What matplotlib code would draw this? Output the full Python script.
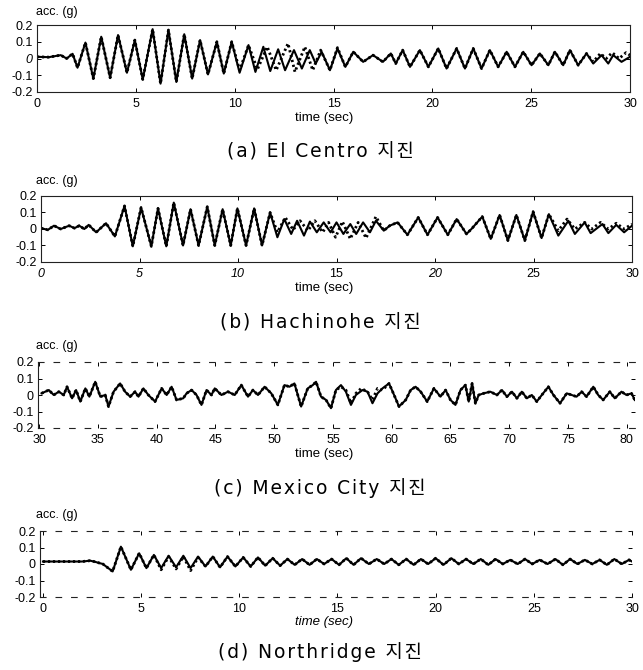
import matplotlib
matplotlib.use("Agg")
import matplotlib.pyplot as plt

plt.rcParams['font.family'] = ['Liberation Sans', 'DejaVu Sans']

# ---- El Centro: response peaks (time s, acc g) ----
elc_t = [0.0, 0.6, 1.2, 1.5, 1.8, 2.05, 2.45, 2.85, 3.25, 3.7, 4.1, 4.55, 4.95, 5.35, 5.85,
         6.25, 6.65, 7.05, 7.45, 7.85, 8.25, 8.65, 9.1, 9.45, 9.85, 10.25, 10.7, 11.05, 11.45,
         11.8, 12.2, 12.55, 13.0, 13.4, 13.8, 14.1, 14.4, 14.82, 15.2, 15.6, 16.0, 16.5, 17.0,
         17.5, 17.9, 18.15, 18.5, 18.87, 19.37, 19.8, 20.3, 20.72, 21.23, 21.65, 22.07, 22.49,
         22.91, 23.33, 23.76, 24.18, 24.6, 25.02, 25.44, 25.87, 26.2, 26.62, 26.96, 27.38, 27.8,
         28.14, 28.56, 28.9, 29.15, 29.57, 30.0]
elc_acc = [0.010, 0.008, 0.020, 0.000, 0.028, -0.055, 0.095, -0.120, 0.130, -0.115, 0.140,
           -0.085, 0.110, -0.125, 0.175, -0.150, 0.170, -0.140, 0.145, -0.120, 0.110, -0.095,
           0.100, -0.090, 0.100, -0.085, 0.080, -0.080, 0.070, -0.075, 0.055, -0.070, 0.050,
           -0.060, 0.050, -0.030, 0.040, -0.070, 0.060, -0.050, 0.040, -0.020, 0.020, -0.020,
           0.030, -0.030, 0.050, -0.050, 0.050, -0.050, 0.060, -0.060, 0.060, -0.060, 0.060,
           -0.060, 0.050, -0.050, 0.040, -0.050, 0.040, -0.040, 0.030, -0.040, 0.040, -0.040,
           0.050, -0.040, 0.030, -0.030, 0.020, -0.030, 0.020, -0.020, 0.010]
# simulated response where it departs from the measured one
elc_sim_t1 = [10.25, 10.7, 11.15, 11.65, 12.1, 12.7, 13.05, 13.55, 13.95, 14.35, 14.82, 15.2, 15.6, 16.0]
elc_sim_a1 = [-0.070, 0.080, -0.065, 0.070, -0.070, 0.090, -0.080, 0.070, -0.070, 0.050, -0.070,
              0.065, -0.050, 0.040]
elc_sim_t2 = [28.14, 28.5, 28.8, 29.1, 29.45, 29.8, 30.0]
elc_sim_a2 = [-0.020, 0.030, 0.000, 0.035, 0.000, 0.035, 0.020]

# ---- Hachinohe ----
hac_t = [0.0, 0.35, 0.66, 1.0, 1.43, 1.7, 1.94, 2.2, 2.42, 2.8, 3.3, 3.75, 4.24, 4.66, 5.08,
         5.6, 5.94, 6.36, 6.74, 7.21, 7.59, 8.0, 8.44, 8.82, 9.22, 9.63, 9.97, 10.41, 10.82,
         11.22, 11.63, 12.0, 12.35, 12.7, 13.0, 13.35, 13.65, 14.0, 14.35, 14.7, 15.0, 15.35,
         15.7, 16.0, 16.35, 16.7, 17.0, 17.4, 17.7, 18.1, 18.6, 19.15, 19.62, 20.13, 20.65,
         21.1, 21.6, 21.85, 22.4, 22.83, 23.28, 23.7, 24.13, 24.56, 24.98, 25.41, 25.78, 26.26,
         26.77, 27.1, 27.6, 27.9, 28.5, 28.8, 29.2, 29.6, 30.0]
hac_acc = [0.005, -0.005, 0.020, 0.000, 0.020, 0.005, 0.020, 0.000, 0.025, -0.020, 0.035,
           -0.045, 0.140, -0.105, 0.130, -0.105, 0.125, -0.105, 0.160, -0.100, 0.120, -0.100,
           0.135, -0.100, 0.120, -0.100, 0.125, -0.100, 0.125, -0.100, 0.100, -0.050, 0.060,
           -0.030, 0.050, -0.040, 0.045, -0.020, 0.040, -0.020, 0.040, -0.030, 0.030, -0.030,
           0.040, -0.020, 0.050, -0.010, 0.020, 0.040, -0.035, 0.070, -0.035, 0.070, -0.035,
           0.060, -0.030, 0.000, 0.075, -0.060, 0.085, -0.070, 0.085, -0.070, 0.105, -0.055,
           0.090, -0.040, 0.050, -0.030, 0.040, -0.025, 0.030, -0.025, 0.025, -0.020, 0.020]
hac_sim_t1 = [12.0, 12.4, 12.8, 13.15, 13.55, 13.9, 14.3, 14.6, 14.95, 15.3, 15.7, 16.1, 16.5, 17.0, 17.4]
hac_sim_a1 = [-0.020, 0.070, -0.005, 0.050, -0.010, 0.050, -0.020, 0.040, -0.050, 0.045, -0.060,
              0.040, -0.055, 0.075, -0.010]
hac_sim_t2 = [26.26, 26.7, 27.1, 27.6, 27.95, 28.4, 28.8, 29.2, 29.6, 30.0]
hac_sim_a2 = [-0.010, 0.060, 0.000, 0.040, 0.000, 0.040, 0.000, 0.035, 0.000, 0.030]

# ---- Mexico City ----
mex_t = [30.2, 30.82, 31.24, 31.67, 32.09, 32.37, 32.8, 33.14, 33.5, 33.93, 34.27, 34.77, 35.2,
         35.62, 35.9, 36.33, 36.89, 37.31, 37.74, 38.16, 38.45, 38.87, 39.29, 39.86, 40.42,
         40.85, 41.27, 41.69, 42.26, 42.54, 42.97, 43.39, 43.81, 44.24, 44.66, 44.94, 45.51,
         46.07, 46.64, 47.2, 47.77, 48.19, 48.62, 49.18, 49.75, 50.31, 50.87, 51.3, 51.72,
         52.29, 52.85, 53.28, 53.56, 53.98, 54.41, 54.83, 55.25, 55.68, 56.1, 56.53, 56.95,
         57.51, 57.94, 58.36, 58.79, 59.21, 59.77, 60.2, 60.62, 61.19, 61.61, 62.03, 62.46,
         63.02, 63.59, 64.15, 64.58, 65.0, 65.42, 65.85, 66.27, 66.55, 66.84, 67.12, 67.4,
         67.82, 68.39, 68.95, 69.38, 69.8, 70.23, 70.65, 71.07, 71.5, 71.92, 72.34, 72.77,
         73.33, 73.76, 74.32, 74.89, 75.31, 75.73, 76.16, 76.58, 77.15, 77.57, 77.99, 78.56,
         78.98, 79.55, 79.97, 80.4, 80.68]
mex_acc = [0.01, 0.03, 0.00, 0.02, 0.00, 0.05, -0.02, 0.03, -0.04, 0.04, -0.01, 0.08, -0.01,
           0.00, -0.07, 0.02, 0.07, 0.02, -0.01, 0.02, -0.01, 0.04, 0.00, -0.04, 0.04, 0.00,
           0.05, -0.03, -0.02, 0.01, 0.03, 0.00, -0.06, 0.03, 0.00, 0.04, 0.00, 0.02, 0.00,
           0.06, -0.01, 0.03, 0.00, 0.05, 0.01, -0.06, 0.06, 0.05, 0.07, -0.07, 0.04, 0.06,
           0.08, -0.01, -0.03, -0.08, 0.03, 0.06, 0.02, -0.06, 0.00, 0.03, 0.02, -0.05, 0.01,
           0.04, 0.07, 0.00, -0.07, -0.03, 0.03, 0.05, 0.02, -0.04, 0.04, -0.01, 0.03, -0.03,
           -0.06, 0.03, 0.06, -0.04, 0.07, -0.05, 0.00, 0.01, 0.02, 0.00, 0.03, -0.01, 0.02,
           -0.02, 0.02, -0.02, 0.00, -0.04, 0.00, 0.05, 0.00, -0.05, 0.01, 0.00, -0.01, 0.02,
           -0.01, 0.05, 0.00, -0.03, 0.02, -0.02, 0.02, 0.00, 0.01, -0.03]
mex_sim_t1 = [55.25, 55.68, 56.1, 56.53, 56.95, 57.4, 57.94, 58.36, 58.79, 59.21, 59.77]
mex_sim_a1 = [0.03, 0.05, 0.03, -0.05, 0.01, 0.04, 0.02, -0.03, 0.04, 0.03, 0.07]

# ---- Northridge ----
nor_t = [0.0, 1.0, 2.0, 2.4, 2.6, 3.05, 3.55, 3.97, 4.48, 4.9, 5.27, 5.65, 6.02, 6.4, 6.78,
         7.15, 7.52, 7.9, 8.28, 8.65, 9.02, 9.4, 9.8, 10.2, 10.58, 10.95, 11.32, 11.7, 12.08,
         12.45, 12.82, 13.2, 13.58, 13.95, 14.32, 14.7, 15.08, 15.45, 15.82, 16.2, 16.6, 17.0,
         17.38, 17.75, 18.12, 18.5, 18.88, 19.25, 19.62, 20.0, 20.4, 20.8, 21.18, 21.55, 21.92,
         22.3, 22.68, 23.05, 23.42, 23.8, 24.18, 24.55, 24.92, 25.3, 25.7, 26.1, 26.48, 26.85,
         27.22, 27.6, 27.98, 28.35, 28.72, 29.1, 29.48, 29.85, 30.0]
nor_acc = [0.015, 0.015, 0.015, 0.020, 0.015, 0.000, -0.045, 0.105, -0.035, 0.065, -0.025,
           0.055, -0.025, 0.050, -0.020, 0.050, -0.025, 0.045, -0.015, 0.045, -0.020, 0.045,
           -0.015, 0.040, -0.015, 0.040, -0.010, 0.035, -0.010, 0.030, -0.005, 0.030, -0.005,
           0.030, 0.000, 0.030, -0.005, 0.035, -0.005, 0.035, 0.000, 0.030, 0.000, 0.030,
           -0.005, 0.030, -0.005, 0.030, 0.000, 0.035, -0.005, 0.035, 0.000, 0.030, 0.000,
           0.030, -0.005, 0.030, 0.000, 0.025, 0.000, 0.030, 0.000, 0.025, 0.000, 0.030,
           -0.005, 0.030, 0.000, 0.025, 0.000, 0.025, -0.005, 0.030, 0.000, 0.025, 0.015]
nor_sim_t1 = [6.02, 6.4, 6.78, 7.15, 7.52, 7.9]
nor_sim_a1 = [-0.035, 0.045, -0.030, 0.045, -0.040, 0.040]

y_ticks = [0.2, 0.1, 0, -0.1, -0.2]
y_ticklabels = ['0.2', '0.1', '0', '-0.1', '-0.2']


def splice(t, a, seg_t, seg_a):
    """Swap the stretch of (t, a) covered by seg_t for the segment's own points."""
    lo, hi = seg_t[0], seg_t[-1]
    pts = [(x, y) for x, y in zip(t, a) if x < lo]
    pts += list(zip(seg_t, seg_a))
    pts += [(x, y) for x, y in zip(t, a) if x > hi]
    return [p[0] for p in pts], [p[1] for p in pts]


def px(x, y, w=None, h=None):
    """Pixel box (from top-left) -> figure fraction rect."""
    return [x / 643, 1 - (y + h) / 670, w / 643, h / 670]


def spaced(s):
    # caption text is set with loose letter spacing
    return '\u200a'.join(s)


fig = plt.figure(figsize=(6.43, 6.70), dpi=100)

panels = [
    dict(rect=px(37, 25, 593, 67), t=elc_t, a=elc_acc,
         segs=[(elc_sim_t1, elc_sim_a1), (elc_sim_t2, elc_sim_a2)],
         xlim=(0, 30), xticks=[0, 5, 10, 15, 20, 25, 30], broken=False,
         acc_y=12, lab_y=118, cap_y=152, cap='(a) El Centro 지진'),
    dict(rect=px(41, 196, 591, 66), t=hac_t, a=hac_acc,
         segs=[(hac_sim_t1, hac_sim_a1), (hac_sim_t2, hac_sim_a2)],
         xlim=(0, 30), xticks=[0, 5, 10, 15, 20, 25, 30], broken=False,
         acc_y=181, lab_y=288, cap_y=323, cap='(b) Hachinohe 지진'),
    dict(rect=px(38, 362, 597, 66), t=mex_t, a=mex_acc,
         segs=[(mex_sim_t1, mex_sim_a1)],
         xlim=(29.9, 80.7), xticks=[30, 35, 40, 45, 50, 55, 60, 65, 70, 75, 80], broken=True,
         acc_y=346, lab_y=454, cap_y=488, cap='(c) Mexico City 지진'),
    dict(rect=px(40, 531, 592, 66), t=nor_t, a=nor_acc,
         segs=[(nor_sim_t1, nor_sim_a1)],
         xlim=(-0.15, 30), xticks=[0, 5, 10, 15, 20, 25, 30], broken=True,
         acc_y=515, lab_y=622, cap_y=652, cap='(d) Northridge 지진'),
]

for i, p in enumerate(panels):
    ax = fig.add_axes(p['rect'])
    sim_t, sim_a = p['t'], p['a']
    for seg_t, seg_a in p['segs']:
        sim_t, sim_a = splice(sim_t, sim_a, seg_t, seg_a)

    ax.plot(p['t'], p['a'], color='black', lw=1.5, solid_joinstyle='round')
    ax.plot(sim_t, sim_a, color='black', lw=2.0, linestyle=(0, (0.8, 1.0)))

    ax.set_xlim(*p['xlim'])
    ax.set_ylim(-0.2, 0.2)
    ax.set_xticks(p['xticks'])
    ax.set_yticks(y_ticks)
    ax.set_yticklabels(y_ticklabels)
    ax.tick_params(direction='in', top=True, right=True, length=3, width=0.7,
                   labelsize=9, pad=3)
    ax.tick_params(axis='x', pad=4)

    for s in ax.spines.values():
        s.set_linewidth(0.8)
        s.set_color('#222222')
    if p['broken']:
        for side in ('top', 'bottom'):
            ax.spines[side].set_linestyle((0, (5, 9)))
        ax.spines['right'].set_visible(False)

    if i == 0:
        ax.get_yticklabels()[2].set_style('italic')
    if i == 1:
        for lab in ax.get_xticklabels():
            if lab.get_text() in ('0', '5', '10', '20'):
                lab.set_style('italic')

    fig.text(36 / 643, 1 - p['acc_y'] / 670, 'acc. (g)', fontsize=9,
             ha='left', va='center')
    fig.text(324 / 643, 1 - p['lab_y'] / 670, 'time (sec)', fontsize=9.5,
             ha='center', va='center', style='italic' if i == 3 else 'normal')
    fig.text(320 / 643, 1 - p['cap_y'] / 670, spaced(p['cap']), fontsize=13.5,
             ha='center', va='center',
             family=['DejaVu Sans', 'Noto Sans CJK KR'])

fig.savefig('out.png', dpi=100)
